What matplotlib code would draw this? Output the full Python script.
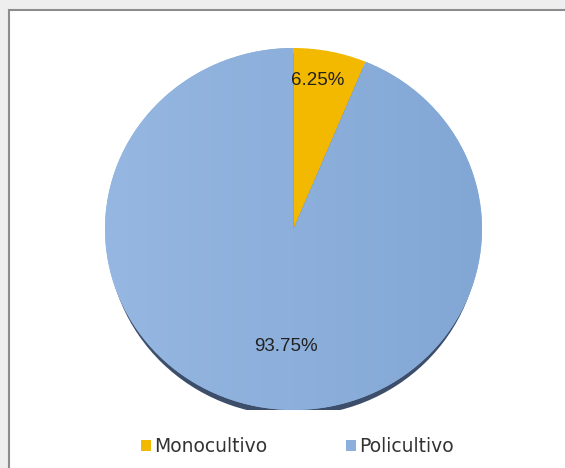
import numpy as np
import matplotlib.pyplot as plt
from matplotlib.colors import LinearSegmentedColormap
from matplotlib.patches import Ellipse, Rectangle, Patch

labels = ['Monocultivo', 'Policultivo']
shares = [6.25, 93.75]
colors = ['#F3B800', '#8CAFDB']

fig = plt.figure(figsize=(5.65, 4.68), dpi=100, facecolor='#eeeeee')

# white chart area with grey frame
frame = Rectangle((9 / 565, -0.01), 1.0, 1 - 10 / 468 + 0.01,
                  transform=fig.transFigure, facecolor='white',
                  edgecolor='#8c8c8c', linewidth=1.5, zorder=-5)
fig.add_artist(frame)

# pie axes, slightly squashed vertically for the tilted look
ax = fig.add_axes([105 / 565, (468 - 410) / 468, 377 / 565, 362 / 468])
ax.axis('off')

# dark rim under the pie
ax.add_patch(Ellipse((0, -0.032), 1.975, 2.0, facecolor='#3d4e6b',
                     edgecolor='none', zorder=0))

wedges, texts, autotexts = ax.pie(shares, colors=colors, startangle=90,
                                  counterclock=False, radius=1.0,
                                  autopct=lambda p: f'{p:.2f}%',
                                  wedgeprops=dict(linewidth=0),
                                  textprops=dict(family='Liberation Sans',
                                                 fontsize=13.5, color='#222222'))
ax.set_aspect('auto')
ax.set_xlim(-1, 1)
ax.set_ylim(-1, 1)
for w in wedges:
    w.set_zorder(1)

# soft left-to-right shading on the big slice
shade = LinearSegmentedColormap.from_list('shade', ['#95B7E1', '#83A7D5'])
grad = ax.imshow(np.linspace(0, 1, 256)[None, :], cmap=shade,
                 extent=(-1, 1, -1, 1), aspect='auto', zorder=1.5)
grad.set_clip_path(wedges[1])
ax.set_xlim(-1, 1)
ax.set_ylim(-1, 1)

for t in autotexts:
    t.set_zorder(3)
autotexts[0].set_position((0.13, 0.82))
autotexts[1].set_position((-0.04, -0.65))

handles = [Patch(facecolor=c, edgecolor='none') for c in colors]
fig.legend(handles, labels, loc='center', bbox_to_anchor=(0.527, 0.045),
           ncol=2, frameon=False, handlelength=0.5, handleheight=0.5,
           handletextpad=0.2, columnspacing=4.2,
           prop=dict(family='DejaVu Sans', size=13.5), labelcolor='#333333')

fig.savefig('out.png', dpi=100, facecolor=fig.get_facecolor())
